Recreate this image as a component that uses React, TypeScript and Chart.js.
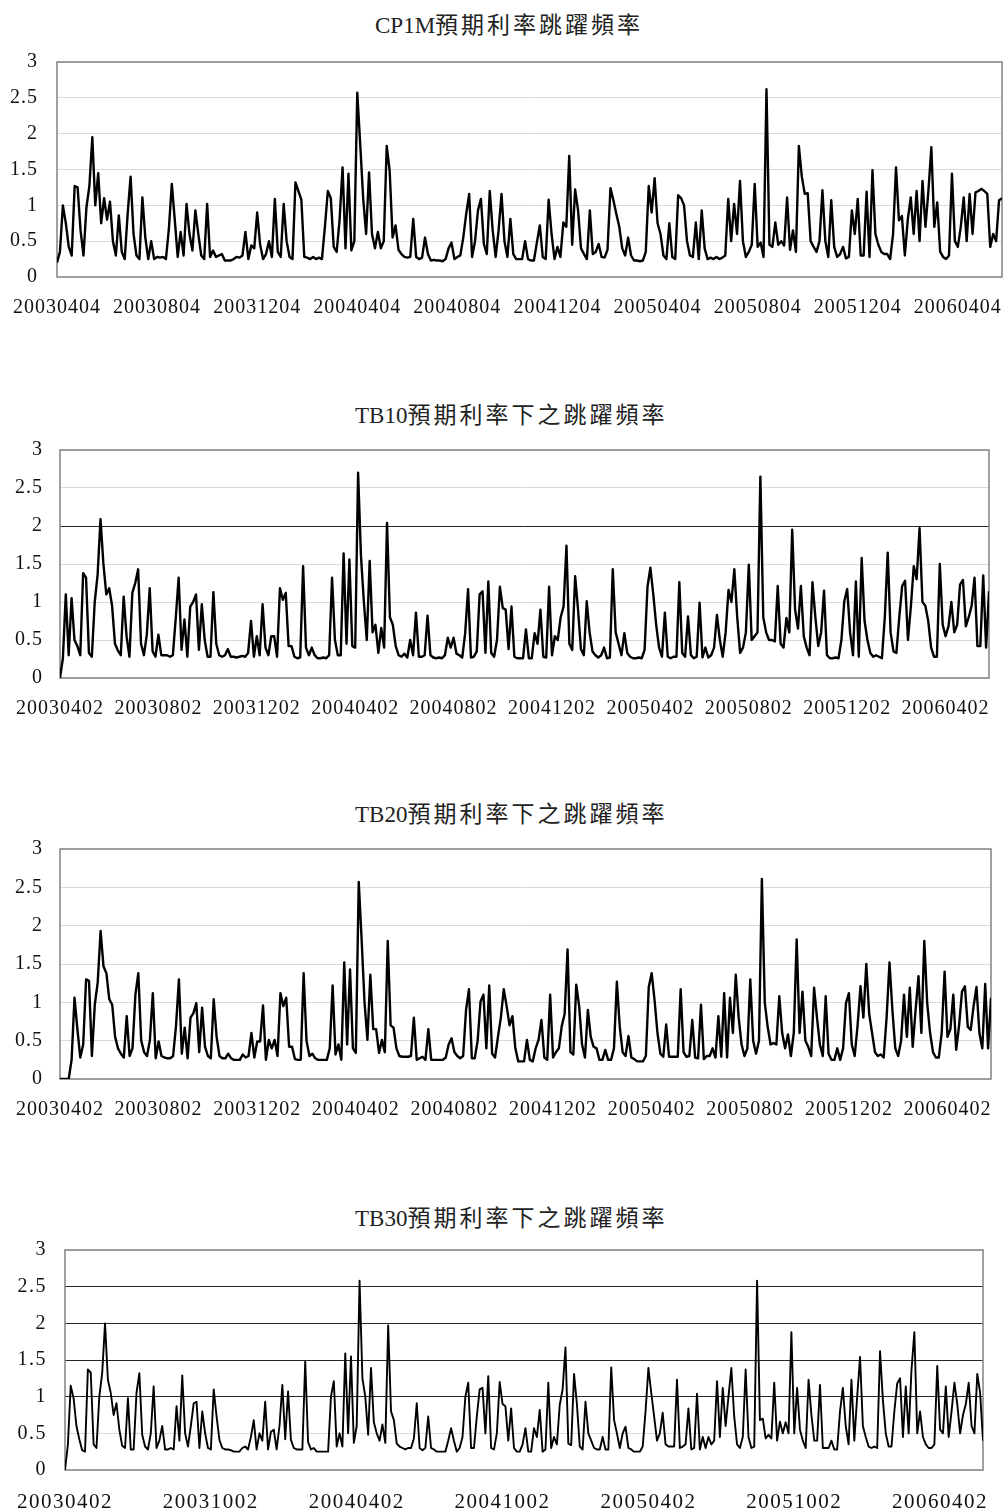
import React, { useEffect, useRef } from 'react';
import { Chart, registerables } from 'chart.js';

Chart.register(...registerables);

// ---------- data ----------
const labelsCP1M = ['20030404', '20030804', '20031204', '20040404', '20040804', '20041204', '20050404', '20050804', '20051204', '20060404'];
const labelsTB = ['20030402', '20030802', '20031202', '20040402', '20040802', '20041202', '20050402', '20050802', '20051202', '20060402'];
const labelsTB30 = ['20030402', '20031002', '20040402', '20041002', '20050402', '20051002', '20060402'];

const yTicks = [0, 0.5, 1, 1.5, 2, 2.5, 3];

const cp1m = [
  0.2, 0.35, 1.0, 0.75, 0.42, 0.3, 1.27, 1.25, 0.65, 0.3,
  0.97, 1.27, 1.95, 1.0, 1.45, 0.75, 1.1, 0.8, 1.05, 0.5,
  0.3, 0.86, 0.35, 0.25, 0.88, 1.4, 0.6, 0.3, 0.25, 1.11,
  0.55, 0.25, 0.5, 0.25, 0.28, 0.27, 0.28, 0.25, 0.67, 1.3,
  0.8, 0.28, 0.63, 0.3, 1.02, 0.6, 0.37, 0.93, 0.6, 0.3,
  0.25, 1.02, 0.28, 0.37, 0.28, 0.3, 0.32, 0.23, 0.23, 0.23,
  0.25, 0.28, 0.27, 0.3, 0.63, 0.25, 0.44, 0.4, 0.9, 0.45,
  0.25, 0.32, 0.5, 0.28, 1.09, 0.35, 0.28, 1.02, 0.5, 0.28,
  0.25, 1.32, 1.2, 1.08, 0.28, 0.27, 0.25, 0.28, 0.25, 0.27,
  0.25, 0.7, 1.2, 1.1, 0.42, 0.35, 0.8, 1.53, 0.4, 1.44,
  0.37, 0.5, 2.57, 1.85, 1.1, 0.6, 1.46, 0.6, 0.4, 0.63,
  0.4, 0.5, 1.83, 1.48, 0.55, 0.72, 0.38, 0.32, 0.28, 0.27,
  0.28, 0.81, 0.28, 0.25, 0.27, 0.55, 0.32, 0.23, 0.24, 0.23,
  0.23, 0.22, 0.25, 0.4, 0.48, 0.25, 0.28, 0.3, 0.55, 0.88,
  1.16, 0.28, 0.5, 0.93, 1.09, 0.46, 0.32, 1.2, 0.65, 0.28,
  0.65, 1.16, 0.5, 0.28, 0.81, 0.32, 0.25, 0.25, 0.25, 0.5,
  0.25, 0.23, 0.23, 0.48, 0.72, 0.28, 0.25, 1.08, 0.6, 0.25,
  0.42, 0.28, 0.76, 0.7, 1.69, 0.45, 1.22, 0.93, 0.4, 0.32,
  0.25, 0.93, 0.32, 0.35, 0.46, 0.28, 0.27, 0.38, 1.24, 1.07,
  0.88, 0.7, 0.4, 0.3, 0.55, 0.3, 0.23, 0.23, 0.22, 0.23,
  0.35, 1.27, 0.9, 1.38, 0.75, 0.6, 0.3, 0.25, 0.75, 0.28,
  0.25, 1.14, 1.1, 1.0, 0.5, 0.3, 0.28, 0.76, 0.25, 0.93,
  0.4, 0.25, 0.27, 0.25, 0.28, 0.25, 0.27, 0.3, 1.09, 0.5,
  1.02, 0.6, 1.34, 0.5, 0.28, 0.35, 0.45, 1.3, 0.42, 0.48,
  0.28, 2.62, 0.45, 0.42, 0.76, 0.45, 0.5, 0.44, 1.11, 0.38,
  0.65, 0.35, 1.83, 1.4, 1.16, 1.17, 0.5, 0.42, 0.35, 0.5,
  1.21, 0.5, 0.28, 1.07, 0.42, 0.28, 0.32, 0.42, 0.26, 0.28,
  0.93, 0.6, 1.09, 0.3, 0.3, 1.19, 0.28, 1.49, 0.6, 0.45,
  0.35, 0.32, 0.32, 0.25, 0.6, 1.53, 0.79, 0.85, 0.3, 0.8,
  1.11, 0.6, 1.2, 0.5, 1.34, 0.7, 1.2, 1.81, 0.7, 1.04,
  0.35, 0.28, 0.25, 0.3, 1.44, 0.5, 0.42, 0.7, 1.11, 0.5,
  1.16, 0.6, 1.18, 1.2, 1.23, 1.2, 1.16, 0.42, 0.6, 0.5,
  1.07, 1.1,
];

const tb10 = [
  0, 0.26, 1.1, 0.3, 1.05, 0.5, 0.42, 0.3, 1.38, 1.32,
  0.33, 0.28, 1.0, 1.36, 2.09, 1.5, 1.1, 1.18, 0.95, 0.45,
  0.36, 0.3, 1.07, 0.55, 0.28, 1.12, 1.25, 1.43, 0.45, 0.3,
  0.57, 1.18, 0.35, 0.28, 0.57, 0.3, 0.3, 0.3, 0.28, 0.3,
  0.79, 1.32, 0.37, 0.77, 0.28, 0.94, 1.0, 1.1, 0.37, 0.97,
  0.5, 0.28, 0.28, 1.13, 0.45, 0.3, 0.28, 0.3, 0.38, 0.28,
  0.28, 0.27, 0.28, 0.29, 0.28, 0.33, 0.75, 0.28, 0.55, 0.3,
  0.97, 0.4, 0.3, 0.55, 0.55, 0.28, 1.18, 1.03, 1.12, 0.42,
  0.42, 0.28, 0.26, 0.27, 1.47, 0.4, 0.3, 0.4, 0.3, 0.26,
  0.26, 0.27, 0.26, 0.3, 1.32, 0.5, 0.3, 0.3, 1.64, 0.45,
  1.56, 0.42, 0.4, 2.7, 1.6, 1.0, 0.5, 1.54, 0.6, 0.7,
  0.33, 0.66, 0.4, 2.04, 0.8, 0.7, 0.42, 0.3, 0.28, 0.32,
  0.27, 0.5, 0.3, 0.86, 0.28, 0.28, 0.3, 0.82, 0.3, 0.27,
  0.26, 0.27, 0.26, 0.3, 0.53, 0.4, 0.53, 0.32, 0.3, 0.27,
  0.59, 1.17, 0.27, 0.28, 0.35, 1.1, 1.14, 0.33, 1.27, 0.33,
  0.28, 0.5, 1.2, 0.92, 0.9, 0.38, 0.94, 0.28, 0.26, 0.26,
  0.26, 0.64, 0.26, 0.26, 0.59, 0.45, 0.9, 0.28, 0.27, 1.2,
  0.3, 0.55, 0.5, 0.8, 0.94, 1.74, 0.45, 0.37, 1.34, 0.9,
  0.38, 0.3, 1.01, 0.6, 0.35, 0.3, 0.27, 0.3, 0.4, 0.26,
  0.27, 1.43, 0.6, 0.45, 0.3, 0.59, 0.33, 0.28, 0.26, 0.26,
  0.27, 0.26, 0.37, 1.2, 1.45, 1.1, 0.7, 0.4, 0.28, 0.86,
  0.28, 0.26, 0.28, 0.28, 1.26, 0.33, 0.28, 0.81, 0.3, 0.26,
  0.28, 0.99, 0.27, 0.4, 0.27, 0.3, 0.4, 0.83, 0.5, 0.28,
  0.6, 1.16, 1.0, 1.43, 0.8, 0.33, 0.4, 0.6, 1.49, 0.5,
  0.55, 0.6, 2.65, 0.8, 0.6, 0.5, 0.5, 0.48, 1.21, 0.45,
  0.4, 0.79, 0.6, 1.95, 0.9, 0.65, 1.21, 0.55, 0.4, 0.3,
  1.26, 0.8, 0.42, 0.6, 1.15, 0.3, 0.26, 0.26, 0.27, 0.26,
  0.5, 1.01, 1.17, 0.6, 0.3, 1.27, 0.28, 1.58, 0.75, 0.5,
  0.33, 0.28, 0.3, 0.28, 0.26, 0.8, 1.65, 0.6, 0.35, 0.33,
  0.8, 1.21, 1.28, 0.5, 0.94, 1.47, 1.3, 1.97, 1.0, 0.95,
  0.75, 0.4, 0.28, 0.28, 1.5, 0.7, 0.55, 0.68, 1.0, 0.6,
  0.7, 1.23, 1.29, 0.68, 0.8, 0.95, 1.32, 0.42, 0.42, 1.35,
  0.4, 1.14,
];

const tb20 = [
  0, 0, 0, 0, 0.25, 1.06, 0.65, 0.28, 0.45, 1.3,
  1.28, 0.3, 0.97, 1.26, 1.93, 1.47, 1.38, 1.04, 0.97, 0.55,
  0.4, 0.33, 0.28, 0.82, 0.3, 0.4, 1.1, 1.38, 0.5, 0.35,
  0.3, 0.51, 1.12, 0.27, 0.49, 0.3, 0.28, 0.27, 0.27, 0.3,
  0.69, 1.3, 0.33, 0.67, 0.27, 0.8, 0.86, 0.99, 0.35, 0.93,
  0.42, 0.3, 0.27, 1.04, 0.55, 0.3, 0.27, 0.27, 0.33, 0.27,
  0.25, 0.25, 0.25, 0.32, 0.28, 0.3, 0.6, 0.28, 0.49, 0.49,
  0.96, 0.25, 0.51, 0.4, 0.51, 0.3, 1.12, 0.95, 1.06, 0.42,
  0.42, 0.26, 0.25, 0.25, 1.38, 0.5, 0.3, 0.33, 0.27, 0.25,
  0.25, 0.25, 0.25, 0.4, 1.22, 0.32, 0.45, 0.25, 1.52, 0.45,
  1.43, 0.4, 0.34, 2.57, 1.82, 1.0, 0.51, 1.36, 0.65, 0.65,
  0.34, 0.51, 0.35, 1.8, 0.7, 0.67, 0.4, 0.3, 0.29, 0.29,
  0.29, 0.3, 0.8, 0.25, 0.27, 0.29, 0.25, 0.65, 0.25, 0.25,
  0.25, 0.25, 0.25, 0.28, 0.45, 0.53, 0.35, 0.3, 0.27, 0.3,
  0.9, 1.17, 0.27, 0.27, 0.5, 1.01, 1.1, 0.4, 1.22, 0.33,
  0.28, 0.55, 0.8, 1.17, 0.95, 0.7, 0.82, 0.4, 0.23, 0.23,
  0.23, 0.51, 0.25, 0.23, 0.4, 0.51, 0.77, 0.28, 0.25, 1.1,
  0.28, 0.35, 0.4, 0.69, 0.85, 1.69, 0.35, 0.32, 1.23, 0.95,
  0.45, 0.28, 0.9, 0.55, 0.42, 0.4, 0.25, 0.25, 0.38, 0.25,
  0.25, 0.4, 1.27, 0.68, 0.35, 0.3, 0.56, 0.28, 0.26, 0.23,
  0.23, 0.23, 0.3, 1.2, 1.38, 1.03, 0.6, 0.33, 0.29, 0.71,
  0.29, 0.29, 0.29, 0.29, 1.17, 0.35, 0.29, 0.3, 0.77, 0.28,
  0.27, 0.97, 0.26, 0.3, 0.3, 0.4, 0.28, 0.82, 0.29, 1.12,
  0.28, 1.06, 0.6, 1.36, 0.8, 0.45, 0.3, 0.4, 1.3, 0.5,
  0.33, 0.5, 2.61, 1.0, 0.68, 0.45, 0.47, 0.45, 1.08, 0.6,
  0.4, 0.58, 0.3, 0.6, 1.82, 0.6, 1.14, 0.5, 0.42, 0.3,
  1.19, 0.8, 0.45, 0.3, 1.08, 0.33, 0.25, 0.25, 0.4, 0.25,
  0.4, 0.99, 1.12, 0.45, 0.3, 0.7, 1.21, 0.8, 1.5, 0.85,
  0.6, 0.35, 0.3, 0.32, 0.28, 0.8, 1.52, 0.9, 0.4, 0.3,
  0.5, 1.1, 0.55, 1.19, 0.42, 0.9, 1.34, 0.6, 1.8, 0.99,
  0.6, 0.35, 0.28, 0.28, 0.6, 1.4, 0.55, 0.65, 1.1, 0.38,
  0.7, 1.14, 1.21, 0.68, 0.64, 0.95, 1.2, 0.6, 0.4, 1.24,
  0.4, 1.06,
];

const tb30 = [
  0, 0.34, 1.15, 0.98, 0.6, 0.42, 0.27, 0.25, 1.37, 1.33,
  0.35, 0.3, 1.0, 1.32, 2.0, 1.23, 1.05, 0.75, 0.91, 0.55,
  0.33, 0.3, 0.98, 0.28, 0.28, 1.05, 1.32, 0.48, 0.32, 0.28,
  0.5, 1.14, 0.3, 0.4, 0.6, 0.28, 0.28, 0.3, 0.28, 0.87,
  0.4, 1.29, 0.5, 0.32, 0.6, 0.91, 0.93, 0.3, 0.8, 0.5,
  0.3, 0.28, 1.1, 0.73, 0.41, 0.3, 0.28, 0.28, 0.27, 0.25,
  0.25, 0.25, 0.3, 0.32, 0.28, 0.45, 0.68, 0.28, 0.5, 0.4,
  0.93, 0.28, 0.52, 0.55, 0.28, 0.6, 1.16, 0.42, 1.07, 0.41,
  0.3, 0.28, 0.28, 0.28, 1.48, 0.38, 0.28, 0.3, 0.25, 0.25,
  0.25, 0.25, 0.25, 1.0, 1.21, 0.32, 0.5, 0.32, 1.59, 0.5,
  1.55, 0.37, 0.6, 2.58, 1.25, 1.0, 0.48, 1.39, 0.65, 0.5,
  0.4, 0.62, 0.37, 1.97, 0.8, 0.68, 0.36, 0.32, 0.3, 0.28,
  0.3, 0.3, 0.43, 0.91, 0.3, 0.27, 0.3, 0.73, 0.3, 0.28,
  0.25, 0.25, 0.25, 0.25, 0.4, 0.57, 0.4, 0.25, 0.3, 0.45,
  1.0, 1.19, 0.3, 0.3, 0.73, 1.1, 1.12, 0.5, 1.28, 0.3,
  0.28, 0.5, 1.2, 0.9, 0.87, 0.4, 0.84, 0.3, 0.25, 0.25,
  0.35, 0.57, 0.25, 0.25, 0.57, 0.45, 0.82, 0.25, 0.28, 1.19,
  0.3, 0.45, 0.35, 0.89, 1.1, 1.67, 0.36, 0.34, 1.31, 0.9,
  0.32, 0.28, 0.93, 0.5, 0.4, 0.3, 0.28, 0.28, 0.45, 0.28,
  0.28, 1.4, 0.68, 0.5, 0.3, 0.5, 0.59, 0.3, 0.28, 0.25,
  0.25, 0.25, 0.32, 0.8, 1.39, 1.05, 0.73, 0.4, 0.5, 0.78,
  0.35, 0.32, 0.32, 0.32, 1.23, 0.3, 0.32, 0.35, 0.84, 0.28,
  0.3, 1.04, 0.28, 0.45, 0.3, 0.45, 0.35, 0.4, 1.21, 0.45,
  1.12, 0.6, 1.0, 1.39, 0.73, 0.35, 0.3, 0.45, 1.37, 0.45,
  0.3, 0.32, 2.58, 0.68, 0.7, 0.43, 0.48, 0.43, 1.19, 0.4,
  0.66, 0.5, 0.65, 0.5, 1.88, 0.5, 1.12, 0.55, 0.4, 0.3,
  1.23, 0.75, 0.4, 0.4, 1.16, 0.3, 0.3, 0.3, 0.4, 0.28,
  0.28, 0.8, 1.12, 0.6, 0.35, 1.23, 0.4, 1.0, 1.54, 0.6,
  0.45, 0.32, 0.3, 0.32, 0.3, 1.62, 0.95, 0.5, 0.32, 0.32,
  0.8, 1.18, 1.25, 0.45, 1.14, 0.5, 1.37, 1.88, 0.5, 0.8,
  0.45, 0.35, 0.3, 0.3, 0.35, 1.42, 0.55, 0.5, 1.14, 0.45,
  0.8, 1.19, 0.9, 0.5, 0.75, 0.9, 1.19, 0.6, 0.5, 1.31,
  1.05, 0.4,
];

// ---------- layout ----------
type PanelCfg = {
  latin: string;
  cjk: string;
  titleLeft: number;
  titleTop: number;
  data: number[];
  labels: string[];
  labelStep: number;
  canvasTop: number;
  canvasHeight: number;
  left: number;
  right: number;
  plotTop: number;
  plotBottom: number;
  darkLines: number[];
  lineWidth: number;
  xFont: number;
  xPad: number;
  yPad: number;
  spacing: string;
};

const PAGE_W = 1003;
const SERIF = '"Liberation Serif", "Times New Roman", serif';

const panels: PanelCfg[] = [
  {
    latin: 'CP1M', cjk: '預期利率跳躍頻率', titleLeft: 375, titleTop: 12,
    data: cp1m, labels: labelsCP1M, labelStep: 34,
    canvasTop: 50, canvasHeight: 280, left: 57, right: 1002, plotTop: 62, plotBottom: 277,
    darkLines: [], lineWidth: 2.4, xFont: 20, xPad: 19, yPad: 19, spacing: '1px',
  },
  {
    latin: 'TB10', cjk: '預期利率下之跳躍頻率', titleLeft: 355, titleTop: 402,
    data: tb10, labels: labelsTB, labelStep: 34,
    canvasTop: 438, canvasHeight: 293, left: 60, right: 989, plotTop: 450, plotBottom: 678,
    darkLines: [2], lineWidth: 2.4, xFont: 20, xPad: 19, yPad: 17, spacing: '1px',
  },
  {
    latin: 'TB20', cjk: '預期利率下之跳躍頻率', titleLeft: 355, titleTop: 801,
    data: tb20, labels: labelsTB, labelStep: 34,
    canvasTop: 837, canvasHeight: 295, left: 60, right: 991, plotTop: 849, plotBottom: 1079,
    darkLines: [], lineWidth: 2.4, xFont: 20, xPad: 19, yPad: 17, spacing: '1px',
  },
  {
    latin: 'TB30', cjk: '預期利率下之跳躍頻率', titleLeft: 355, titleTop: 1205,
    data: tb30, labels: labelsTB30, labelStep: 51,
    canvasTop: 1238, canvasHeight: 273, left: 65, right: 983, plotTop: 1250, plotBottom: 1470,
    darkLines: [1, 1.5, 2, 2.5], lineWidth: 1.9, xFont: 21, xPad: 19.4, yPad: 18, spacing: '1.5px',
  },
];

function Panel({ cfg }: { cfg: PanelCfg }) {
  const ref = useRef<HTMLCanvasElement>(null);

  useEffect(() => {
    const canvas = ref.current;
    if (!canvas) return;
    const plotSpan = cfg.plotBottom - cfg.canvasTop;

    const framePlugin = {
      id: 'frame',
      beforeDraw(chart: any) {
        (chart.ctx as any).letterSpacing = cfg.spacing;
      },
      beforeDatasetsDraw(chart: any) {
        const { ctx, chartArea } = chart;
        ctx.save();
        ctx.strokeStyle = '#8a8a8a';
        ctx.lineWidth = 1.6;
        ctx.strokeRect(chartArea.left, chartArea.top, chartArea.right - chartArea.left, chartArea.bottom - chartArea.top);
        ctx.restore();
      },
    };

    const chart = new Chart(canvas, {
      type: 'line',
      data: {
        datasets: [
          {
            data: cfg.data.map((v, i) => ({ x: i, y: v })),
            borderColor: '#000',
            borderWidth: cfg.lineWidth,
            pointRadius: 0,
            tension: 0,
            fill: false,
            borderJoinStyle: 'round',
          } as any,
        ],
      },
      options: {
        responsive: false,
        animation: false,
        devicePixelRatio: 1,
        events: [],
        layout: {
          padding: { top: cfg.plotTop - cfg.canvasTop, right: PAGE_W - cfg.right, left: 0, bottom: 0 },
        },
        plugins: {
          legend: { display: false },
          tooltip: { enabled: false },
          title: { display: false },
        },
        scales: {
          x: {
            type: 'linear',
            min: 0,
            max: cfg.data.length - 1,
            grid: { display: false, drawTicks: false },
            border: { display: false },
            afterBuildTicks: (s: any) => {
              s.ticks = cfg.labels.map((_, k) => ({ value: k * cfg.labelStep }));
            },
            afterFit: (s: any) => {
              s.height = cfg.canvasHeight - plotSpan;
              s.paddingLeft = 0;
              s.paddingRight = 0;
            },
            ticks: {
              autoSkip: false,
              maxRotation: 0,
              minRotation: 0,
              padding: cfg.xPad,
              color: '#111',
              font: { family: SERIF, size: cfg.xFont },
              callback: (v: any) => cfg.labels[Math.round(Number(v) / cfg.labelStep)] ?? '',
            },
          },
          y: {
            type: 'linear',
            min: 0,
            max: 3,
            afterBuildTicks: (s: any) => {
              s.ticks = yTicks.map((v) => ({ value: v }));
            },
            afterFit: (s: any) => {
              s.width = cfg.left;
              s.paddingTop = 0;
              s.paddingBottom = 0;
            },
            grid: {
              drawTicks: false,
              lineWidth: 1,
              color: (c: any) => (cfg.darkLines.includes(c.tick?.value) ? '#262626' : '#dadada'),
            },
            border: { display: false },
            ticks: {
              padding: cfg.yPad,
              color: '#111',
              font: { family: SERIF, size: 20 },
              callback: (v: any) => String(v),
            },
          },
        },
      } as any,
      plugins: [framePlugin],
    });

    return () => chart.destroy();
  }, [cfg]);

  return (
    <>
      <div
        style={{
          position: 'absolute',
          left: cfg.titleLeft,
          top: cfg.titleTop,
          fontSize: 23,
          lineHeight: '23px',
          whiteSpace: 'nowrap',
          color: '#222',
        }}
      >
        <span style={{ fontFamily: SERIF }}>{cfg.latin}</span>
        <span style={{ fontFamily: '"Noto Sans CJK TC", "Noto Sans CJK SC", sans-serif', letterSpacing: '3px' }}>{cfg.cjk}</span>
      </div>
      <canvas
        ref={ref}
        width={PAGE_W}
        height={cfg.canvasHeight}
        style={{ position: 'absolute', left: 0, top: cfg.canvasTop, width: PAGE_W, height: cfg.canvasHeight }}
      />
    </>
  );
}

export default function App() {
  return (
    <div
      style={{
        position: 'absolute',
        left: 0,
        top: 0,
        width: PAGE_W,
        height: 1511,
        background: '#fff',
        overflow: 'hidden',
      }}
    >
      {panels.map((p) => (
        <Panel key={p.latin} cfg={p} />
      ))}
    </div>
  );
}
